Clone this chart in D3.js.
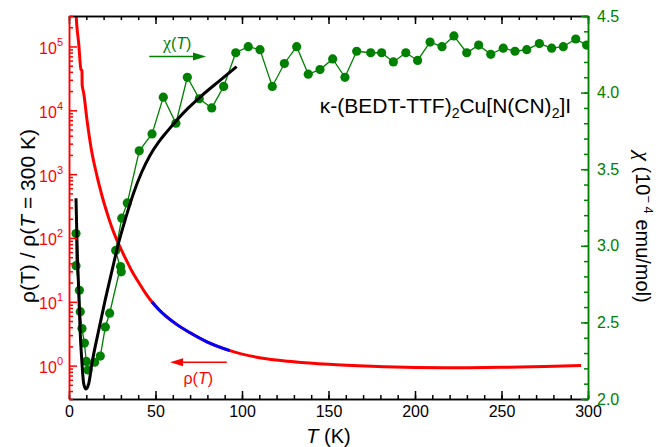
<!DOCTYPE html>
<html>
<head>
<meta charset="utf-8">
<script src="https://cdn.jsdelivr.net/npm/d3@7"></script>
<style>
body { margin: 0; background: #fff; }
text { font-family: Arial, "Liberation Sans", sans-serif; }
</style>
</head>
<body>
<div id="chart"></div>
<script>
var svgWidth = 662;
var svgHeight = 447;

var margin = {
    top : 16,
    right : 74,
    bottom : 48,
    left : 69
}

var width = svgWidth - margin.left - margin.right;
var height = svgHeight - margin.bottom - margin.top;

// resistivity rho(T)/rho(300 K), red curve
var rhoT   = [3.8, 4.6, 5.6, 6.9, 7.5, 7.6, 8.5, 10.4, 12.9, 16.2, 18.1, 20.0, 22.5, 25, 27.5, 30.6, 33.5, 36.4, 39.3, 42.2,
              45, 48, 52, 56, 62, 70, 80, 93, 110, 130, 150, 175, 200, 225, 250, 275, 296];
var rhoVal = [4.2e5, 2.0e5, 1.12e5, 4.37e4, 4.17e4, 2.51e4, 1.86e4, 7080, 2450, 933, 575, 372, 224, 141, 95, 62, 43, 30, 22.1, 16.6,
              12.7, 9.9, 7.5, 5.96, 4.47, 3.27, 2.34, 1.72, 1.33, 1.15, 1.047, 0.977, 0.938, 0.929, 0.94, 0.966, 1.0];
// blue fit range on rho
var rhoFitRange = [48, 93];

// susceptibility chi(T), green points
var chiT   = [4.05, 4.05, 6.0, 6.5, 7.5, 8.9, 10.0, 11.0, 14.8, 18.1, 21.0, 23.5, 29.8, 30.2, 27.0, 30.5, 33.7, 40.6, 48.0, 54.5,
              61.8, 68.4, 75.3, 82.5, 89.4, 96.4, 103.6, 110.4, 117.5, 124.5, 131.6, 138.3, 145.1, 152.4, 159.5, 166.3, 174.4, 180.7, 187.5, 194.7,
              201.5, 208.7, 215.6, 222.5, 229.9, 236.8, 243.8, 251.0, 257.8, 264.6, 271.9, 279.0, 285.7, 292.9, 299.2];
var chiVal = [3.08, 2.87, 2.71, 2.57, 2.46, 2.365, 2.245, 2.19, 2.24, 2.28, 2.47, 2.56, 2.865, 2.83, 2.97, 3.18, 3.28, 3.62, 3.73, 3.97,
              3.80, 4.10, 3.96, 3.90, 4.04, 4.26, 4.30, 4.28, 4.04, 4.19, 4.30, 4.12, 4.15, 4.22, 4.10, 4.27, 4.26, 4.26, 4.20, 4.26,
              4.21, 4.33, 4.30, 4.37, 4.26, 4.31, 4.25, 4.29, 4.27, 4.28, 4.32, 4.29, 4.30, 4.35, 4.31];

// fit to chi(T), black curve
var fitT   = [4.05, 4.6, 5.6, 6.5, 7.5, 8.5, 9.8, 11.4, 13.3, 17.2, 21, 24.9, 28.7, 33, 37.2, 42, 46.8, 52, 57, 62.3, 69, 75.7, 87.3, 96.9];
var fitVal = [3.31, 3.04, 2.71, 2.43, 2.235, 2.10, 2.065, 2.10, 2.235, 2.45, 2.65, 2.84, 3.02, 3.19, 3.34, 3.48, 3.59, 3.68, 3.75, 3.82, 3.90, 3.97, 4.08, 4.17];

var xTicks = [0, 50, 100, 150, 200, 250, 300];
var xMinorTicks = d3.range(0, 301, 10);
var rhoTicks = [1, 10, 100, 1000, 10000, 100000];
var chiTicks = [2.0, 2.5, 3.0, 3.5, 4.0, 4.5];
var chiMinorTicks = d3.range(20, 46, 1).map(d => d / 10);

var red = "#ff0000", green = "#008000", blue = "#0000ff";
var greekFont = "'Liberation Serif', 'DejaVu Serif', serif";

var svg = d3.select("#chart")
    .append("svg")
    .attr("width", svgWidth)
    .attr("height", svgHeight);

var chartGroup = svg.append("g")
    .attr("transform", `translate(${margin.left}, ${margin.top})`);

var xScale = d3.scaleLinear().domain([0, 300]).range([0, width]);
var yRho = d3.scaleLog().domain([0.3, 3e5]).range([height, 0]);
var yChi = d3.scaleLinear().domain([2, 4.5]).range([height, 0]);

svg.append("defs").append("clipPath").attr("id", "clip")
    .append("rect").attr("width", width).attr("height", height);

var plot = chartGroup.append("g").attr("clip-path", "url(#clip)");

// red rho curve
var rhoData = rhoT.map((t, i) => [t, rhoVal[i]]);
var rhoLine = d3.line()
    .x(d => xScale(d[0]))
    .y(d => yRho(d[1]))
    .curve(d3.curveMonotoneX);

plot.append("path")
    .attr("d", rhoLine(rhoData))
    .attr("fill", "none")
    .attr("stroke", red)
    .attr("stroke-width", 3);

plot.append("path")
    .attr("d", rhoLine(rhoData.filter(d => d[0] >= rhoFitRange[0] && d[0] <= rhoFitRange[1])))
    .attr("fill", "none")
    .attr("stroke", blue)
    .attr("stroke-width", 3);

// green chi points
var chiData = chiT.map((t, i) => [t, chiVal[i]]);
plot.append("path")
    .attr("d", d3.line().x(d => xScale(d[0])).y(d => yChi(d[1]))(chiData))
    .attr("fill", "none")
    .attr("stroke", green)
    .attr("stroke-width", 1.3);

plot.selectAll("circle")
    .data(chiData)
    .enter()
    .append("circle")
    .attr("cx", d => xScale(d[0]))
    .attr("cy", d => yChi(d[1]))
    .attr("r", 4.6)
    .attr("fill", green);

// black fit
var fitData = fitT.map((t, i) => [t, fitVal[i]]);
plot.append("path")
    .attr("d", d3.line().x(d => xScale(d[0])).y(d => yChi(d[1])).curve(d3.curveMonotoneX)(fitData))
    .attr("fill", "none")
    .attr("stroke", "black")
    .attr("stroke-width", 3);

// axes
function styleAxis(g, color) {
    g.selectAll("path, line").attr("stroke", color).attr("stroke-width", 1.5);
    g.selectAll("text").attr("fill", color).attr("font-size", 16)
        .attr("font-family", "Arial, 'Liberation Sans', sans-serif");
}

var xMinorAxis = chartGroup.append("g").attr("transform", `translate(0,${height})`)
    .call(d3.axisBottom(xScale).tickValues(xMinorTicks).tickSize(-4).tickSizeOuter(0).tickFormat(""));
styleAxis(xMinorAxis, "black");
var xAxis = chartGroup.append("g").attr("transform", `translate(0,${height})`)
    .call(d3.axisBottom(xScale).tickValues(xTicks).tickSize(-8).tickSizeOuter(0).tickPadding(7));
styleAxis(xAxis, "black");

var topMinor = chartGroup.append("g")
    .call(d3.axisTop(xScale).tickValues(xMinorTicks).tickSize(-4).tickSizeOuter(0).tickFormat(""));
styleAxis(topMinor, "black");
var topAxis = chartGroup.append("g")
    .call(d3.axisTop(xScale).tickValues(xTicks).tickSize(-8).tickSizeOuter(0).tickFormat(""));
styleAxis(topAxis, "black");

// left log axis
var rhoMinor = [];
[0.1, 1, 10, 100, 1000, 10000, 100000].forEach(function(dec) {
    for (var k = 2; k <= 9; k++) {
        var v = dec * k;
        if (v >= 0.3 && v <= 3e5) rhoMinor.push(v);
    }
});
var leftMinor = chartGroup.append("g")
    .call(d3.axisLeft(yRho).tickValues(rhoMinor).tickSize(-4).tickSizeOuter(0).tickFormat(""));
styleAxis(leftMinor, red);
var leftAxis = chartGroup.append("g")
    .call(d3.axisLeft(yRho).tickValues(rhoTicks).tickSize(-8).tickSizeOuter(0).tickFormat(""));
styleAxis(leftAxis, red);
leftAxis.selectAll(".tick").append("text")
    .attr("x", -6)
    .attr("y", 7)
    .attr("text-anchor", "end")
    .attr("fill", red)
    .attr("font-size", 16)
    .each(function(d) {
        var t = d3.select(this);
        t.append("tspan").text("10");
        t.append("tspan").attr("dy", -8).attr("font-size", 11).text(Math.round(Math.log10(d)));
    });

// right chi axis
var rightMinor = chartGroup.append("g").attr("transform", `translate(${width},0)`)
    .call(d3.axisRight(yChi).tickValues(chiMinorTicks).tickSize(-4).tickSizeOuter(0).tickFormat(""));
styleAxis(rightMinor, green);
var rightAxis = chartGroup.append("g").attr("transform", `translate(${width},0)`)
    .call(d3.axisRight(yChi).tickValues(chiTicks).tickSize(-7).tickSizeOuter(0).tickPadding(9).tickFormat(d3.format(".1f")));
styleAxis(rightAxis, green);

// axis titles
var leftTitle = svg.append("text")
    .attr("transform", "translate(35, 216) rotate(-90)")
    .attr("text-anchor", "middle")
    .attr("font-size", 21)
    .attr("fill", "black");
leftTitle.append("tspan").text("\u03c1(T) / \u03c1(");
leftTitle.append("tspan").attr("font-style", "italic").text("T");
leftTitle.append("tspan").text(" = 300 K)");

var rightTitle = svg.append("text")
    .attr("transform", "translate(636, 227) rotate(90)")
    .attr("text-anchor", "middle")
    .attr("font-size", 20)
    .attr("fill", "black");
rightTitle.append("tspan").attr("font-style", "italic").attr("font-family", greekFont).attr("font-size", 22).text("\u03c7");
rightTitle.append("tspan").text(" (10");
rightTitle.append("tspan").attr("dy", -8).attr("font-size", 13).text("\u2212 4");
rightTitle.append("tspan").attr("dy", 8).text(" emu/mol)");

var xTitle = svg.append("text")
    .attr("x", margin.left + width / 2)
    .attr("y", 443)
    .attr("text-anchor", "middle")
    .attr("font-size", 20)
    .attr("fill", "black");
xTitle.append("tspan").attr("font-style", "italic").text("T");
xTitle.append("tspan").text(" (K)");

// annotations
function arrow(g, x1, x2, y, color) {
    var dir = x2 > x1 ? 1 : -1;
    g.append("line")
        .attr("x1", x1).attr("x2", x2 - dir * 8)
        .attr("y1", y).attr("y2", y)
        .attr("stroke", color).attr("stroke-width", 1.5);
    g.append("path")
        .attr("d", `M${x2},${y} L${x2 - dir * 13},${y - 4} L${x2 - dir * 13},${y + 4} Z`)
        .attr("fill", color);
}

arrow(chartGroup, xScale(46.4), xScale(79.2), yChi(4.235), green);
var chiLabel = chartGroup.append("text")
    .attr("x", xScale(62.5)).attr("y", yChi(4.285))
    .attr("text-anchor", "middle").attr("font-size", 16).attr("fill", green);
chiLabel.append("tspan").attr("font-family", greekFont).attr("font-size", 18).text("\u03c7");
chiLabel.append("tspan").text("(");
chiLabel.append("tspan").attr("font-style", "italic").text("T");
chiLabel.append("tspan").text(")");

arrow(chartGroup, xScale(91.2), xScale(58.4), yRho(1.13), red);
var rhoLabel = chartGroup.append("text")
    .attr("x", xScale(74.7)).attr("y", yRho(0.52))
    .attr("text-anchor", "middle").attr("font-size", 16).attr("fill", red);
rhoLabel.append("tspan").text("\u03c1(");
rhoLabel.append("tspan").attr("font-style", "italic").text("T");
rhoLabel.append("tspan").text(")");

var compound = chartGroup.append("text")
    .attr("x", xScale(145)).attr("y", yChi(3.87))
    .attr("font-size", 21).attr("fill", "black");
compound.append("tspan").text("\u03ba-(BEDT-TTF)");
compound.append("tspan").attr("dy", 5).attr("font-size", 14).text("2");
compound.append("tspan").attr("dy", -5).text("Cu[N(CN)");
compound.append("tspan").attr("dy", 5).attr("font-size", 14).text("2");
compound.append("tspan").attr("dy", -5).text("]I");
</script>
</body>
</html>
